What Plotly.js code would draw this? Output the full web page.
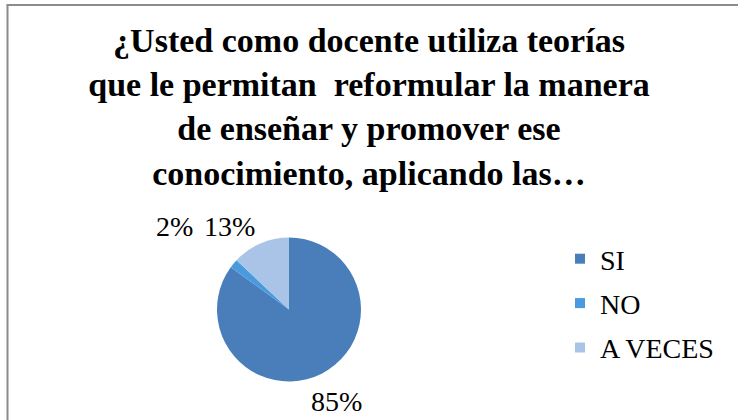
<!DOCTYPE html>
<html>
<head>
<meta charset="utf-8">
<script src="https://cdn.plot.ly/plotly-3.0.1.min.js"></script>
<style>
  html, body { margin: 0; padding: 0; background: #fff; }
  #chart { width: 738px; height: 420px; }
</style>
</head>
<body>
<div id="chart"></div>
<script>
// ---- data ----
const categories = ["SI", "NO", "A VECES"];
const percentages = [85, 2, 13];
const sliceColors = ["#4a7eba", "#4a9ade", "#a9c4e6"];
const titleLines = [
  "¿Usted como docente utiliza teorías",
  "que le permitan  reformular la manera",
  "de enseñar y promover ese",
  "conocimiento, aplicando las…"
];

// ---- layout helpers (pixel -> paper, margins are zero) ----
const W = 738, H = 420;
const px = x => x / W;
const py = y => 1 - y / H;

const FONT = "Liberation Serif";

const pie = {
  type: "pie",
  labels: categories,
  values: percentages,
  marker: { colors: sliceColors, line: { width: 0 } },
  sort: false,
  direction: "clockwise",
  rotation: 0,
  textinfo: "none",
  hoverinfo: "label+percent",
  showlegend: false,
  domain: { x: [px(217), px(361)], y: [py(382), py(237)] }
};

// legend entries (one per category) so their spacing can match the reference
const legendTraces = categories.map((c, i) => ({
  type: "scatter",
  mode: "markers",
  x: [null], y: [null],
  name: c,
  legendgroup: "g" + i,
  marker: { symbol: "square", size: 10, color: sliceColors[i] },
  hoverinfo: "skip",
  showlegend: true
}));

// percentage labels placed like the reference
const labelPos = [[336, 401], [174, 226], [230, 226]];
const annotations = percentages.map((v, i) => ({
  xref: "paper", yref: "paper",
  x: px(labelPos[i][0]), y: py(labelPos[i][1]),
  xanchor: "center", yanchor: "middle",
  text: v + "%",
  showarrow: false,
  font: { family: FONT, size: 28, color: "#000" }
}));

const layout = {
  width: W, height: H,
  margin: { l: 0, r: 0, t: 0, b: 0 },
  paper_bgcolor: "#fff",
  plot_bgcolor: "#fff",
  title: {
    text: titleLines.join("<br>"),
    x: 0.5, xanchor: "center",
    xref: "container", yref: "container",
    y: py(52), yanchor: "middle",
    font: { family: FONT, size: 34, color: "#000", weight: 700 }
  },
  xaxis: { visible: false, domain: [0.99, 1] },
  yaxis: { visible: false, domain: [0.99, 1] },
  showlegend: true,
  legend: {
    x: px(560), xanchor: "left",
    y: py(234), yanchor: "top",
    tracegroupgap: 5,
    bgcolor: "rgba(0,0,0,0)",
    font: { family: FONT, size: 28, color: "#000" }
  },
  annotations: annotations,
  shapes: [
    { type: "line", xref: "paper", yref: "paper",
      x0: px(7.5), x1: px(7.5), y0: 0, y1: py(5),
      line: { color: "#8c8c8c", width: 2 } },
    { type: "line", xref: "paper", yref: "paper",
      x0: px(6.5), x1: 1, y0: py(5), y1: py(5),
      line: { color: "#8c8c8c", width: 2 } }
  ]
};

Plotly.newPlot("chart", [pie].concat(legendTraces), layout, { displayModeBar: false, staticPlot: true });
</script>
</body>
</html>
